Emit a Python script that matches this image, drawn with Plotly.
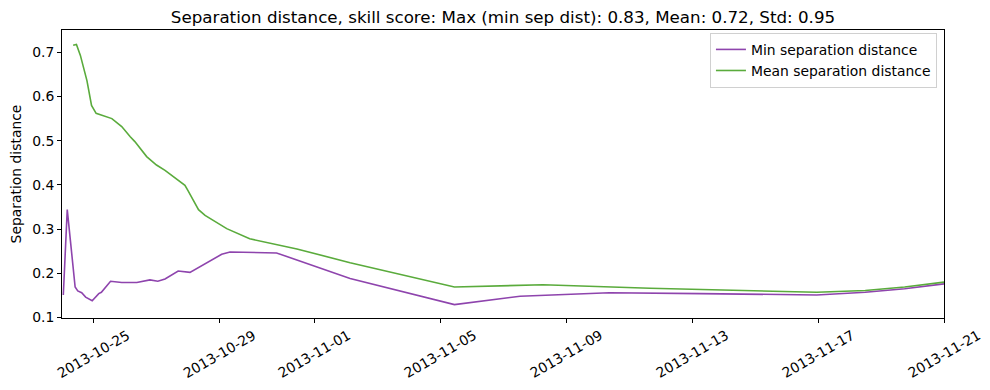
import plotly.graph_objects as go

# Min separation distance
min_dates = [
    "2013-10-24 01:00", "2013-10-24 04:00", "2013-10-24 10:00", "2013-10-24 12:00",
    "2013-10-24 15:00", "2013-10-24 18:00", "2013-10-24 23:00", "2013-10-25 04:00",
    "2013-10-25 06:00", "2013-10-25 13:00", "2013-10-25 21:30", "2013-10-26 09:00",
    "2013-10-26 19:00", "2013-10-27 01:00", "2013-10-27 06:30", "2013-10-27 16:30",
    "2013-10-28 01:30", "2013-10-29 01:40", "2013-10-29 08:00", "2013-10-30 19:30",
    "2013-11-02 03:30", "2013-11-05 11:00", "2013-11-07 13:00", "2013-11-10 09:00",
    "2013-11-13 06:00", "2013-11-16 23:00", "2013-11-18 12:00", "2013-11-19 18:00",
    "2013-11-21 00:00",
]
min_values = [
    0.151, 0.344, 0.169, 0.160,
    0.156, 0.146, 0.138, 0.154,
    0.157, 0.182, 0.179, 0.179,
    0.185, 0.182, 0.187, 0.205,
    0.202, 0.243, 0.248, 0.246,
    0.188, 0.129, 0.148, 0.156,
    0.154, 0.151, 0.157, 0.165,
    0.176,
]

# Mean separation distance
mean_dates = [
    "2013-10-24 08:30", "2013-10-24 11:00", "2013-10-24 14:00", "2013-10-24 19:00",
    "2013-10-24 22:30", "2013-10-25 02:00", "2013-10-25 14:00", "2013-10-25 21:30",
    "2013-10-26 04:00", "2013-10-26 07:30", "2013-10-26 16:30", "2013-10-27 00:00",
    "2013-10-27 06:30", "2013-10-27 21:40", "2013-10-28 00:00", "2013-10-28 08:00",
    "2013-10-28 13:00", "2013-10-29 05:30", "2013-10-29 23:00", "2013-10-31 11:00",
    "2013-11-02 03:30", "2013-11-05 11:00", "2013-11-08 06:30", "2013-11-11 16:00",
    "2013-11-16 23:00", "2013-11-18 12:00", "2013-11-19 18:00", "2013-11-21 00:00",
]
mean_values = [
    0.716, 0.718, 0.693, 0.636,
    0.580, 0.562, 0.550, 0.532,
    0.509, 0.498, 0.464, 0.445,
    0.433, 0.399, 0.387, 0.344,
    0.331, 0.301, 0.278, 0.255,
    0.224, 0.169, 0.174, 0.166,
    0.157, 0.161, 0.169, 0.180,
]

x_ticks = ["2013-10-25", "2013-10-29", "2013-11-01", "2013-11-05",
           "2013-11-09", "2013-11-13", "2013-11-17", "2013-11-21"]
y_ticks = [0.1, 0.2, 0.3, 0.4, 0.5, 0.6, 0.7]
y_tick_labels = ["0.1", "0.2", "0.3", "0.4", "0.5", "0.6", "0.7"]

title_text = "Separation distance, skill score: Max (min sep dist): 0.83, Mean: 0.72, Std: 0.95"

FONT = "DejaVu Sans"
FS = 13.9
W, H = 982, 382

fig = go.Figure()
fig.add_trace(go.Scatter(x=min_dates, y=min_values, mode="lines",
                         name="Min separation distance",
                         line=dict(color="#8e44ad", width=1.6)))
fig.add_trace(go.Scatter(x=mean_dates, y=mean_values, mode="lines",
                         name="Mean separation distance",
                         line=dict(color="#5aab3c", width=1.6)))

annotations = []
for d in x_ticks:
    annotations.append(dict(x=d, xref="x", y=0, yref="paper", yshift=-36,
                            xanchor="center", yanchor="middle",
                            text=d, showarrow=False, textangle=-30,
                            font=dict(family=FONT, size=FS, color="black")))

fig.update_layout(
    width=W, height=H,
    margin=dict(l=54, r=46, t=22, b=72, autoexpand=False),
    paper_bgcolor="white", plot_bgcolor="white",
    font=dict(family=FONT, size=FS, color="black"),
    title=dict(text=title_text, x=0.5, xref="paper", xanchor="center",
               y=1 - 9 / H, yref="container", yanchor="middle",
               font=dict(family=FONT, size=16.7, color="black")),
    showlegend=True,
    legend=dict(x=0.992, xanchor="right", y=0.99, yanchor="top",
                bgcolor="white", bordercolor="#d0d0d0", borderwidth=1,
                tracegroupgap=0, itemwidth=30,
                font=dict(family=FONT, size=FS, color="black")),
    annotations=annotations,
)
fig.update_xaxes(
    type="date", automargin=False,
    range=["2013-10-24 00:00", "2013-11-21 00:00"],
    tickvals=x_ticks, showticklabels=False,
    ticks="outside", ticklen=4, tickcolor="black", tickwidth=1,
    showgrid=False, zeroline=False,
    showline=True, linecolor="black", linewidth=1, mirror=True,
)
fig.update_yaxes(
    automargin=False,
    range=[0.0988, 0.7505],
    tickvals=y_ticks, ticktext=y_tick_labels,
    ticks="outside", ticklen=4, tickcolor="black", tickwidth=1,
    showgrid=False, zeroline=False,
    showline=True, linecolor="black", linewidth=1, mirror=True,
    title=dict(text="Separation distance", standoff=8,
               font=dict(family=FONT, size=FS, color="black")),
    tickfont=dict(family=FONT, size=FS, color="black"),
)

fig.write_html("out.html")
